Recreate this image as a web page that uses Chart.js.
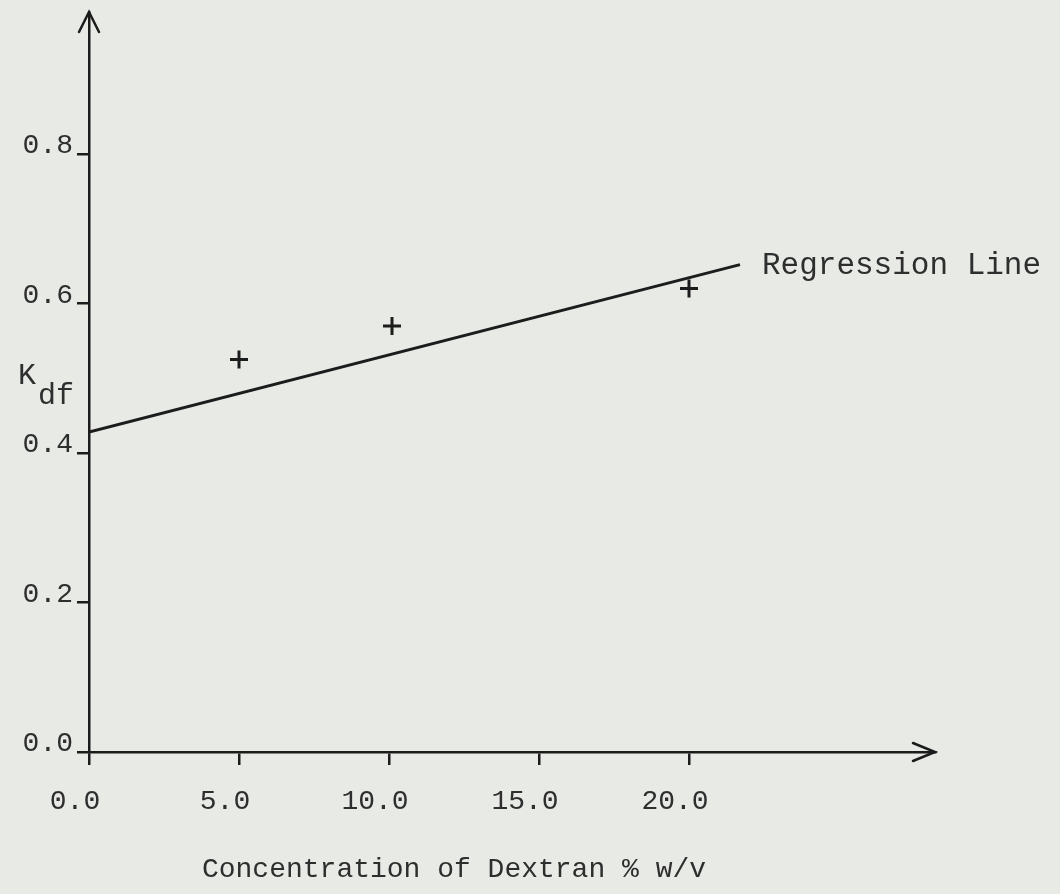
<!DOCTYPE html>
<html>
<head>
<meta charset="utf-8">
<script src="https://cdn.jsdelivr.net/npm/chart.js@4"></script>
<style>
  html, body { margin: 0; padding: 0; background: #e8eae6; }
  #wrap { width: 1060px; height: 894px; }
</style>
</head>
<body>
<div id="wrap"><canvas id="kdf-chart" width="1060" height="894"></canvas></div>
<script>
// Data
const concentrations = [5.0, 10.1, 20.0];
const kdfValues = [0.525, 0.57, 0.62];
const regressionX = [0.0, 21.7];
const regressionY = [0.428, 0.652];
const xTicks = [0, 5, 10, 15, 20];
const yTicks = [0, 0.2, 0.4, 0.6, 0.8];

const ink = '#1c1c1c';
const textInk = '#2e2e2e';
const mono = '"Liberation Mono", "DejaVu Sans Mono", monospace';

// arrows, axis titles and the line label
const extras = {
  id: 'extras',
  afterDraw(chart) {
    const { ctx } = chart;
    const xs = chart.scales.x, ys = chart.scales.y;
    const x0 = xs.getPixelForValue(0), y0 = ys.getPixelForValue(0);
    const xEnd = xs.getPixelForValue(xs.max), yTop = ys.getPixelForValue(ys.max);
    ctx.save();
    ctx.strokeStyle = ink;
    ctx.lineWidth = 2.5;
    ctx.lineCap = 'round';
    ctx.beginPath();
    ctx.moveTo(x0 - 10, yTop + 20); ctx.lineTo(x0, yTop); ctx.lineTo(x0 + 10, yTop + 20);
    ctx.moveTo(xEnd - 22, y0 - 9); ctx.lineTo(xEnd, y0); ctx.lineTo(xEnd - 22, y0 + 9);
    ctx.stroke();

    ctx.fillStyle = textInk;
    ctx.font = '30px ' + mono;
    ctx.textBaseline = 'middle';
    ctx.fillText('K', 18, 376);
    ctx.fillText('df', 38, 396);

    // x title sits left of the axis centre in the original
    ctx.font = '28px ' + mono;
    ctx.textAlign = 'center';
    ctx.fillText('Concentration of Dextran % w/v', 454, 870);

    ctx.textAlign = 'left';
    ctx.font = '31px ' + mono;
    const lx = xs.getPixelForValue(regressionX[1]);
    const ly = ys.getPixelForValue(regressionY[1]);
    ctx.fillText('Regression Line', lx + 22, ly + 1);
    ctx.restore();
  }
};

new Chart(document.getElementById('kdf-chart'), {
  type: 'scatter',
  data: {
    datasets: [
      {
        label: 'Kdf',
        data: concentrations.map((c, i) => ({ x: c, y: kdfValues[i] })),
        pointStyle: 'cross',
        pointRadius: 9,
        pointBorderWidth: 3,
        borderColor: ink,
        backgroundColor: ink
      },
      {
        label: 'Regression Line',
        type: 'line',
        data: regressionX.map((x, i) => ({ x, y: regressionY[i] })),
        borderColor: ink,
        borderWidth: 3,
        pointRadius: 0,
        fill: false
      }
    ]
  },
  options: {
    responsive: false,
    animation: false,
    layout: { padding: { top: 10, right: 125, left: 0, bottom: 0 } },
    plugins: {
      legend: { display: false },
      tooltip: { enabled: false }
    },
    scales: {
      x: {
        type: 'linear',
        min: 0,
        max: 28.2,
        afterFit: (scale) => { scale.height = 142; },
        afterBuildTicks: (scale) => { scale.ticks = xTicks.map(v => ({ value: v })); },
        border: { display: true, color: ink, width: 2.5 },
        grid: { drawOnChartArea: false, drawTicks: true, tickLength: 13, color: ink, lineWidth: 2.5 },
        ticks: {
          color: textInk,
          font: { family: mono, size: 28 },
          padding: 20,
          labelOffset: -14,
          maxRotation: 0,
          callback: (v) => v.toFixed(1)
        }
      },
      y: {
        type: 'linear',
        min: 0,
        max: 0.99,
        afterFit: (scale) => { scale.width = 89; scale.paddingTop = 0; },
        afterBuildTicks: (scale) => { scale.ticks = yTicks.map(v => ({ value: v })); },
        border: { display: true, color: ink, width: 2.5 },
        grid: { drawOnChartArea: false, drawTicks: true, tickLength: 12, color: ink, lineWidth: 2.5 },
        ticks: {
          color: textInk,
          font: { family: mono, size: 28 },
          padding: 4,
          labelOffset: -8,
          callback: (v) => v.toFixed(1)
        }
      }
    }
  },
  plugins: [extras]
});
</script>
</body>
</html>
